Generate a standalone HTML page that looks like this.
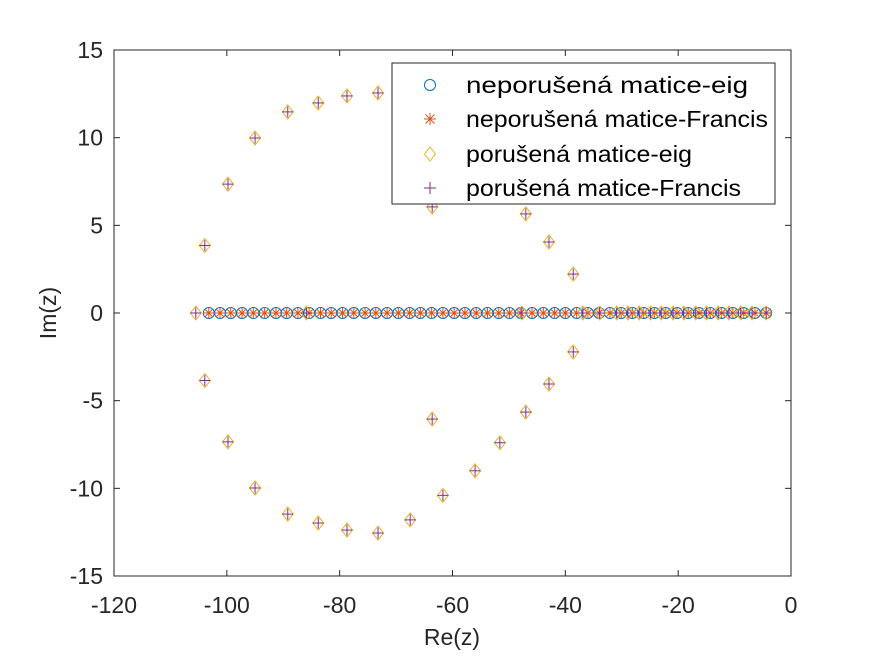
<!DOCTYPE html>
<html><head><meta charset="utf-8"><style>
html,body{margin:0;padding:0;background:#fff;}
svg{display:block;font-family:"Liberation Sans",Arial,sans-serif;}
</style></head><body>
<svg id="chart" width="875" height="656" viewBox="0 0 875 656">
<rect x="0" y="0" width="875" height="656" fill="#fff"/>
<g id="marks"></g>
<rect x="114" y="50" width="677" height="526" fill="none" stroke="#262626" stroke-width="1"/>
<g id="axes"></g>
<text x="452" y="645" text-anchor="middle" font-size="23" fill="#262626">Re(z)</text>
<text transform="translate(56,313) rotate(-90)" text-anchor="middle" font-size="23" fill="#262626">Im(z)</text>
<g id="legend">
<rect x="392" y="63" width="383" height="141" fill="#fff" stroke="#262626" stroke-width="1"/>
<g>
<circle cx="430" cy="85" r="5.5" fill="none" stroke="#0072BD" stroke-width="1"/>
<text x="466" y="93" font-size="23" fill="#000" textLength="282" lengthAdjust="spacingAndGlyphs">neporušená matice-eig</text></g>
<g>
<g stroke="#D95319" stroke-width="1"><line x1="424" y1="119" x2="436" y2="119"/><line x1="430" y1="113" x2="430" y2="125"/><line x1="425.5" y1="114.5" x2="434.5" y2="123.5"/><line x1="425.5" y1="123.5" x2="434.5" y2="114.5"/></g>
<text x="466" y="127" font-size="23" fill="#000" textLength="302" lengthAdjust="spacingAndGlyphs">neporušená matice-Francis</text></g>
<g>
<polygon points="430,147 435.5,154 430,161 424.5,154" fill="none" stroke="#EDB120" stroke-width="1"/>
<text x="466" y="162" font-size="23" fill="#000" textLength="226" lengthAdjust="spacingAndGlyphs">porušená matice-eig</text></g>
<g>
<g stroke="#7E2F8E" stroke-width="1"><line x1="424" y1="188" x2="436" y2="188"/><line x1="430" y1="182" x2="430" y2="194"/></g>
<text x="466" y="196" font-size="23" fill="#000" textLength="275" lengthAdjust="spacingAndGlyphs">porušená matice-Francis</text></g>
</g>
</svg>
<script>
const xTicks=[-120,-100,-80,-60,-40,-20,0];
const yTicks=[-15,-10,-5,0,5,10,15];
const unpertRe=[-103.2,-101.2,-99.3,-97.3,-95.3,-93.3,-91.3,-89.4,-87.4,-85.4,-83.4,-81.5,-79.5,-77.5,-75.5,-73.6,-71.6,-69.6,-67.6,-65.7,-63.7,-61.7,-59.7,-57.8,-55.8,-53.8,-51.8,-49.9,-47.9,-45.9,-43.9,-41.9,-40.0,-38.0,-36.0,-34.0,-32.1,-30.1,-28.1,-26.1,-24.2,-22.2,-20.2,-18.2,-16.3,-14.3,-12.3,-10.3,-8.4,-6.4,-4.4];
const pertRealRe=[-105.5,-85.9,-47.7,-36.9,-33.9,-30.9,-28.9,-26.9,-24.9,-23.0,-20.9,-19.0,-16.9,-15.0,-12.9,-11.0,-8.9,-6.9,-4.4];
const pertCplxRe=[-103.9,-99.8,-95.0,-89.2,-83.8,-78.7,-73.2,-67.5,-61.7,-56.0,-51.6,-47.0,-42.9,-38.6,-63.6];
const pertCplxIm=[3.85,7.35,9.98,11.47,11.98,12.38,12.55,11.8,10.4,9.0,7.4,5.65,4.05,2.22,6.05];
const NS='http://www.w3.org/2000/svg';
const X0=114,X1=791,Y0=576,Y1=50;
function sx(v){return X0+(v+120)/120*(X1-X0);}
function sy(v){return Y0-(v+15)/30*(Y0-Y1);}
function el(t,a,p){const e=document.createElementNS(NS,t);for(const k in a)e.setAttribute(k,a[k]);p.appendChild(e);return e;}
const axes=document.getElementById('axes');
xTicks.forEach(t=>{const x=sx(t);
 const l=el('line',{x1:x,y1:Y0,x2:x,y2:Y0-6,stroke:'#262626'},axes);
 
 
 el('line',{x1:x,y1:Y1,x2:x,y2:Y1+6,stroke:'#262626'},axes);
 const tx=el('text',{x:x,y:Y0+37,'text-anchor':'middle','font-size':23,fill:'#262626'},axes);tx.textContent=t;
 
 });
yTicks.forEach(t=>{const y=sy(t);
 const l=el('line',{x1:X0,y1:y,x2:X0+6,y2:y,stroke:'#262626'},axes);
 
 
 el('line',{x1:X1,y1:y,x2:X1-6,y2:y,stroke:'#262626'},axes);
 const tx=el('text',{x:X0-11,y:y+8,'text-anchor':'end','font-size':23,fill:'#262626'},axes);tx.textContent=t;
 
 });
const marks=document.getElementById('marks');
function circ(re,im){const g=el('circle',{cx:sx(re),cy:sy(im),r:5.5,fill:'none',stroke:'#0072BD','stroke-width':1},marks);
 
 }
function star(re,im){const x=sx(re),y=sy(im);const g=el('g',{stroke:'#D95319','stroke-width':1},marks);
 
 
 el('line',{x1:x-5.5,y1:y,x2:x+5.5,y2:y},g);el('line',{x1:x,y1:y-5.5,x2:x,y2:y+5.5},g);
 el('line',{x1:x-4,y1:y-4,x2:x+4,y2:y+4},g);el('line',{x1:x-4,y1:y+4,x2:x+4,y2:y-4},g);}
function diam(re,im){const x=sx(re),y=sy(im);const p=el('polygon',{points:`${x},${y-7} ${x+5.5},${y} ${x},${y+7} ${x-5.5},${y}`,fill:'none',stroke:'#EDB120','stroke-width':1},marks);
 
 }
function plus(re,im){const x=sx(re),y=sy(im);const g=el('g',{stroke:'#7E2F8E','stroke-width':1},marks);
 
 
 el('line',{x1:x-5.5,y1:y,x2:x+5.5,y2:y},g);el('line',{x1:x,y1:y-5.5,x2:x,y2:y+5.5},g);}
unpertRe.forEach(r=>circ(r,0));
unpertRe.forEach(r=>star(r,0));
pertRealRe.forEach(r=>diam(r,0));
pertCplxRe.forEach((r,i)=>{diam(r,pertCplxIm[i]);diam(r,-pertCplxIm[i]);});
pertRealRe.forEach(r=>plus(r,0));
pertCplxRe.forEach((r,i)=>{plus(r,pertCplxIm[i]);plus(r,-pertCplxIm[i]);});
document.getElementById('chart').appendChild(document.getElementById('legend'));
</script>
</body></html>
